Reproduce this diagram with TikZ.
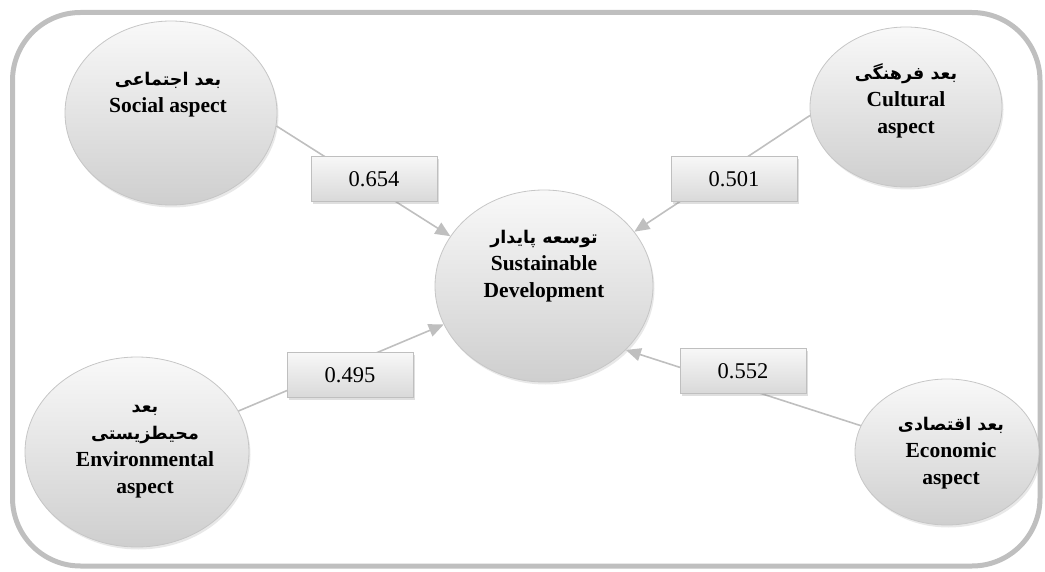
\documentclass[tikz,border=0pt]{standalone}
\usepackage{fontspec}
\setmainfont{Liberation Serif}
\newfontfamily\arabicfont[Script=Arabic]{DejaVu Sans}
\TeXXeTstate=1
\usetikzlibrary{shapes.geometric,arrows.meta,shadows}
\newcommand\perstext[1]{{\arabicfont\bfseries\fontsize{17.5}{27}\selectfont\beginR #1\endR}}
\begin{document}
\begin{tikzpicture}[x=1pt,y=-1pt,
  aspectnode/.style={ellipse, draw=gray!45, line width=0.8pt, top color=gray!5, bottom color=gray!38,
    inner sep=0pt, drop shadow={opacity=0.18, shadow xshift=1.5pt, shadow yshift=-2.5pt}},
  valbox/.style={rectangle, draw=gray!50, line width=0.6pt, top color=gray!6, bottom color=gray!30,
    minimum width=126pt, minimum height=45pt, inner sep=0pt, font=\fontsize{22.5}{24}\selectfont,
    drop shadow={opacity=0.25, shadow xshift=1.5pt, shadow yshift=-2.5pt}},
  conn/.style={draw=gray!50, line width=1.6pt, -{Triangle[length=15pt,width=13pt,fill=gray!50]}},
  lbl/.style={align=center, inner sep=0pt, font=\fontsize{21.5}{27}\selectfont\bfseries},
]
\useasboundingbox (0,0) rectangle (1045,572);
\draw[gray!50, line width=5pt, rounded corners=68pt] (12.5,12.5) rectangle (1040,566);

% ellipses
\node[aspectnode, minimum width=212pt, minimum height=184pt] (soc) at (171,113) {};
\node[aspectnode, minimum width=192pt, minimum height=160pt] (cul) at (906,107) {};
\node[aspectnode, minimum width=218pt, minimum height=192pt] (cen) at (544,286) {};
\node[aspectnode, minimum width=224pt, minimum height=190pt] (env) at (137,452) {};
\node[aspectnode, minimum width=184pt, minimum height=146pt] (eco) at (947,452) {};

% texts
\node[lbl] (soct) at (168,95) {\perstext{بعد اجتماعی}\\Social aspect};
\node[lbl] (cult) at (906,101) {\perstext{بعد فرهنگی}\\Cultural\\aspect};
\node[lbl] (cent) at (544,266) {\perstext{توسعه پایدار}\\Sustainable\\Development};
\node[lbl] (envt) at (145,452) {\perstext{بعد}\\\perstext{محیطزیستی}\\Environmental\\aspect};
\node[lbl] (ecot) at (951,453) {\perstext{بعد اقتصادی}\\Economic\\aspect};

% connectors
\draw[conn] (soc.-7) -- (cen.152);
\draw[conn] (cul.185) -- (cen.31);
\draw[conn] (env.22) -- (cen.201);
\draw[conn] (eco.163) -- (cen.-38);

% value boxes
\node[valbox] (v1) at (374,179) {0.654};
\node[valbox] (v2) at (734,179) {0.501};
\node[valbox] (v3) at (350,375) {0.495};
\node[valbox] (v4) at (743,371) {0.552};
\end{tikzpicture}
\end{document}
